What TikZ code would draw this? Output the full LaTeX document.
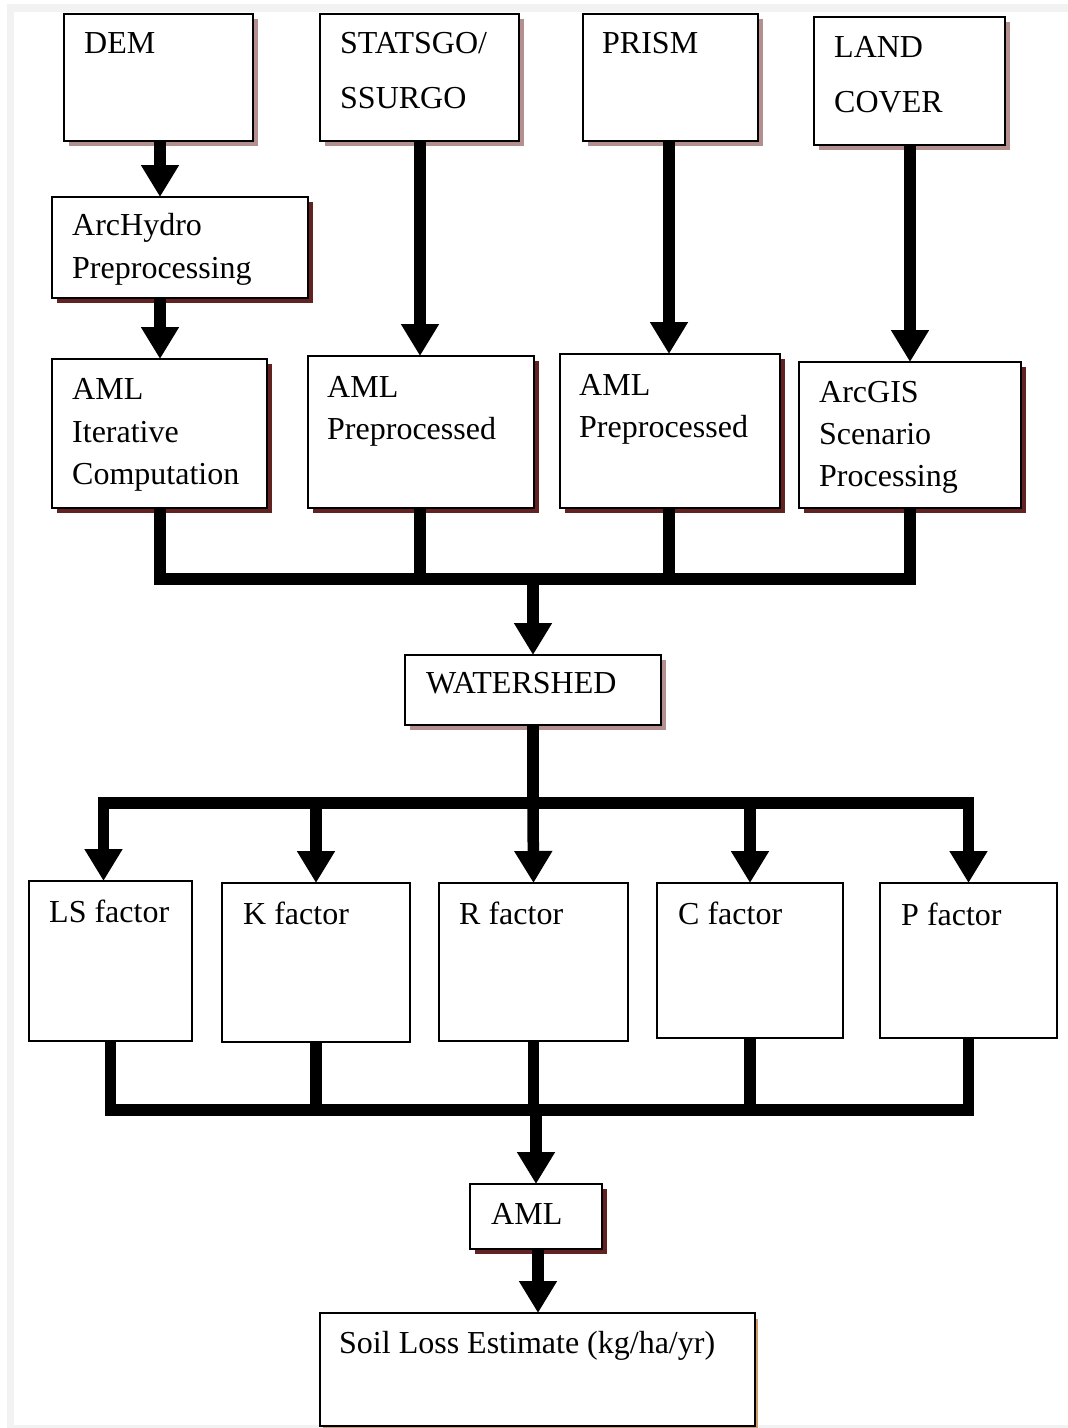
\documentclass[tikz,border=0pt]{standalone}
\usepackage{fontspec}
\setmainfont{Liberation Serif}
\usetikzlibrary{arrows.meta,shadows}
\definecolor{shpink}{HTML}{B38F8F}
\definecolor{shdark}{HTML}{632222}
\definecolor{shorange}{HTML}{D09A6A}
\definecolor{pagegrey}{HTML}{F2F2F2}
\tikzset{
  box/.style={draw=black, line width=2.5pt, fill=white, rectangle, inner sep=0pt, outer sep=0pt, anchor=north west},
  pinkshadow/.style={general shadow={fill=shpink, shadow xshift=5pt, shadow yshift=-5pt}},
  darkshadow/.style={general shadow={fill=shdark, shadow xshift=5pt, shadow yshift=-5pt}},
  orangeshadow/.style={general shadow={fill=shorange, shadow xshift=3pt, shadow yshift=-6pt}},
  txt/.style={anchor=base west, inner sep=0pt, font=\fontsize{32}{38}\selectfont},
  conn/.style={line width=11.5pt, line join=miter, -{Triangle[length=32pt,width=36pt]}},
  bus/.style={line width=11.5pt, line join=miter},
}
\begin{document}
\begin{tikzpicture}[x=1pt,y=-1pt]
\useasboundingbox (0,0) rectangle (1068,1428);
\fill[white] (0,0) rectangle (1068,1428);
\fill[pagegrey] (7,4) rectangle (1068,12);
\fill[pagegrey] (7,4) rectangle (14,1428);
\fill[pagegrey] (7,1425) rectangle (1068,1428);

% column coordinates
\coordinate (c1) at (160,0);
\coordinate (c2) at (420,0);
\coordinate (c3) at (669,0);
\coordinate (c4) at (910,0);
\coordinate (j1) at (533,579);
\coordinate (j2) at (533,803);
\coordinate (j3) at (533,1110);

% top row
\node[box,pinkshadow,minimum width=189pt,minimum height=127pt] (dem) at (64,14) {};
\node[box,pinkshadow,minimum width=199pt,minimum height=127pt] (statsgo) at (320,14) {};
\node[box,pinkshadow,minimum width=175pt,minimum height=127pt] (prism) at (583,14) {};
\node[box,pinkshadow,minimum width=191pt,minimum height=128pt] (land) at (814,17) {};
\node[txt] (demT) at (84,53) {DEM};
\node[txt] (statsgoT1) at (340,53) {STATSGO/};
\node[txt] (statsgoT2) at (340,108) {SSURGO};
\node[txt] (prismT) at (602,53) {PRISM};
\node[txt] (landT1) at (834,57) {LAND};
\node[txt] (landT2) at (834,112) {COVER};

% archydro
\node[box,darkshadow,minimum width=256pt,minimum height=101pt] (archydro) at (52,197) {};
\node[txt] (archydroT1) at (72,235) {ArcHydro};
\node[txt] (archydroT2) at (72,278) {Preprocessing};

% second row
\node[box,darkshadow,minimum width=215pt,minimum height=149pt] (aml1) at (52,359) {};
\node[box,darkshadow,minimum width=226pt,minimum height=152pt] (aml2) at (308,356) {};
\node[box,darkshadow,minimum width=220pt,minimum height=154pt] (aml3) at (560,354) {};
\node[box,darkshadow,minimum width=222pt,minimum height=146pt] (arcgis) at (799,362) {};
\node[txt] (aml1T1) at (72,399) {AML};
\node[txt] (aml1T2) at (72,442) {Iterative};
\node[txt] (aml1T3) at (72,484) {Computation};
\node[txt] (aml2T1) at (327,397) {AML};
\node[txt] (aml2T2) at (327,439) {Preprocessed};
\node[txt] (aml3T1) at (579,395) {AML};
\node[txt] (aml3T2) at (579,437) {Preprocessed};
\node[txt] (arcgisT1) at (819,402) {ArcGIS};
\node[txt] (arcgisT2) at (819,444) {Scenario};
\node[txt] (arcgisT3) at (819,486) {Processing};

% watershed
\node[box,pinkshadow,minimum width=256pt,minimum height=70pt] (watershed) at (405,655) {};
\node[txt] (watershedT) at (426,693) {WATERSHED};

% factor row
\node[box,minimum width=163pt,minimum height=160pt] (ls) at (29,881) {};
\node[box,minimum width=188pt,minimum height=159pt] (k) at (222,883) {};
\node[box,minimum width=189pt,minimum height=158pt] (r) at (439,883) {};
\node[box,minimum width=186pt,minimum height=155pt] (c) at (657,883) {};
\node[box,minimum width=177pt,minimum height=155pt] (p) at (880,883) {};
\node[txt] (lsT) at (49,922) {LS factor};
\node[txt] (kT) at (243,924) {K factor};
\node[txt] (rT) at (459,924) {R factor};
\node[txt] (cT) at (678,924) {C factor};
\node[txt] (pT) at (901,925) {P factor};

% AML and soil loss
\node[box,darkshadow,minimum width=132pt,minimum height=65pt] (aml) at (470,1184) {};
\node[txt] (amlT) at (491,1224) {AML};
\node[box,orangeshadow,minimum width=435pt,minimum height=113pt] (soil) at (320,1313) {};
\node[txt] (soilT) at (339,1353) {Soil Loss Estimate (kg/ha/yr)};

% connectors, top
\draw[conn] (dem.south -| c1) -- (archydro.north -| c1);
\draw[conn] (archydro.south -| c1) -- (aml1.north -| c1);
\draw[conn] (statsgo.south -| c2) -- (aml2.north -| c2);
\draw[conn] (prism.south -| c3) -- (aml3.north -| c3);
\draw[conn] (land.south -| c4) -- (arcgis.north -| c4);

% first bus
\draw[bus] (aml1.south -| c1) -- (c1 |- j1) -- (c4 |- j1) -- (arcgis.south -| c4);
\draw[bus] (aml2.south -| c2) -- (c2 |- j1);
\draw[bus] (aml3.south -| c3) -- (c3 |- j1);
\draw[conn] (j1) -- (watershed.north);

% second bus
\draw[bus] (watershed.south) -- (j2);
\draw[conn] (j2) -| ([xshift=-7pt]ls.north);
\draw[conn] (j2) -| (p.north);
\draw[conn] (k.north |- j2) -- (k.north);
\draw[conn] (j2) -- (r.north);
\draw[conn] (c.north |- j2) -- (c.north);

% third bus
\draw[bus] (ls.south) -- (ls.south |- j3) -- (p.south |- j3) -- (p.south);
\draw[bus] (k.south) -- (k.south |- j3);
\draw[bus] (r.south) -- (r.south |- j3);
\draw[bus] (c.south) -- (c.south |- j3);
\draw[conn] (aml.north |- j3) -- (aml.north);
\draw[conn] ([xshift=2pt]aml.south) -- ([xshift=2pt]aml.south |- soil.north);
\end{tikzpicture}
\end{document}
